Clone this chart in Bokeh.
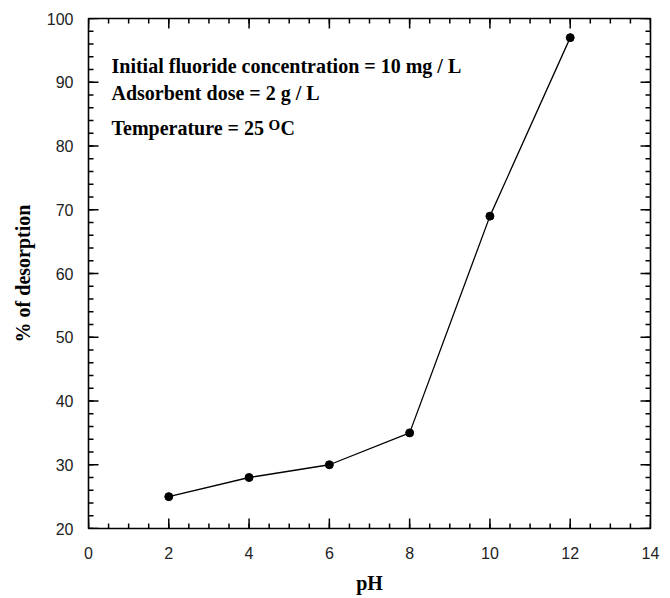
from bokeh.plotting import figure
from bokeh.models import LinearAxis, Label, FixedTicker, Range1d
from bokeh.embed import file_html
from bokeh.resources import INLINE

# Desorption of fluoride versus pH
ph = [2, 4, 6, 8, 10, 12]
desorption = [25, 28, 30, 35, 69, 97]

x_major = [0, 2, 4, 6, 8, 10, 12, 14]
x_minor = [i * 0.5 for i in range(29)]
y_major = [20, 30, 40, 50, 60, 70, 80, 90, 100]
y_minor = list(range(20, 101, 2))

x_lo, x_hi = x_major[0], x_major[-1]
y_lo, y_hi = y_major[0], y_major[-1]

W, H = 670, 598
BL, BR, BT, BB = 88, 20, 18, 70
FRAME_W, FRAME_H = W - BL - BR, H - BT - BB

p = figure(width=W, height=H, output_backend="svg", toolbar_location=None,
           x_range=Range1d(x_lo, x_hi), y_range=Range1d(y_lo, y_hi),
           x_axis_location=None, y_axis_location=None,
           min_border_left=BL, min_border_right=BR, min_border_top=BT, min_border_bottom=BB)
p.background_fill_color = "white"
p.border_fill_color = "white"
p.outline_line_color = "black"
p.outline_line_width = 1.6
p.xgrid.visible = False
p.ygrid.visible = False


def style_axis(ax, ticks, label):
    ax.ticker = FixedTicker(ticks=ticks)
    ax.axis_line_color = None
    ax.major_tick_in = 0
    ax.major_tick_out = 0
    ax.minor_tick_in = 0
    ax.minor_tick_out = 0
    ax.major_label_text_font = "Liberation Sans"
    ax.major_label_text_font_size = "16px"
    ax.major_label_text_color = "#222222"
    ax.axis_label = label
    ax.axis_label_text_font = "Liberation Serif"
    ax.axis_label_text_font_style = "bold"
    ax.axis_label_text_font_size = "20px"
    ax.axis_label_text_color = "black"


xb = LinearAxis()
style_axis(xb, x_major, "pH")
xb.major_label_standoff = 18
xb.axis_label_standoff = 10
p.add_layout(xb, "below")

yl = LinearAxis()
style_axis(yl, y_major, "% of desorption")
yl.major_label_standoff = 15
yl.axis_label_standoff = 10
p.add_layout(yl, "left")

# Inward tick marks on all four sides of the frame, lengths given in pixels
MAJOR_PX, MINOR_PX = 10, 5
dx = (x_hi - x_lo) / FRAME_W   # data units per pixel along x
dy = (y_hi - y_lo) / FRAME_H   # data units per pixel along y

for xs, length in ((x_major, MAJOR_PX), (x_minor, MINOR_PX)):
    n = len(xs)
    p.segment(x0=xs, y0=[y_lo] * n, x1=xs, y1=[y_lo + length * dy] * n, line_color="black", line_width=1.5)
    p.segment(x0=xs, y0=[y_hi] * n, x1=xs, y1=[y_hi - length * dy] * n, line_color="black", line_width=1.5)
for ys, length in ((y_major, MAJOR_PX), (y_minor, MINOR_PX)):
    n = len(ys)
    p.segment(x0=[x_lo] * n, y0=ys, x1=[x_lo + length * dx] * n, y1=ys, line_color="black", line_width=1.5)
    p.segment(x0=[x_hi] * n, y0=ys, x1=[x_hi - length * dx] * n, y1=ys, line_color="black", line_width=1.5)

p.line(ph, desorption, line_color="black", line_width=1.3)
p.scatter(ph, desorption, size=8, marker="circle", fill_color="black", line_color="black")


# Experimental conditions
def note(x, y, text, size="20px"):
    p.add_layout(Label(x=x, y=y, x_units="screen", y_units="screen", text=text,
                       text_font="Liberation Serif", text_font_style="bold",
                       text_font_size=size, text_color="black",
                       text_baseline="alphabetic"))


note(23, 463, "Initial fluoride concentration = 10 mg / L")
note(23, 436, "Adsorbent dose = 2 g / L")
note(23, 401, "Temperature = 25")
note(180, 404, "O", "15px")
note(192, 401, "C")

open("out.html", "w").write(file_html(p, INLINE))
